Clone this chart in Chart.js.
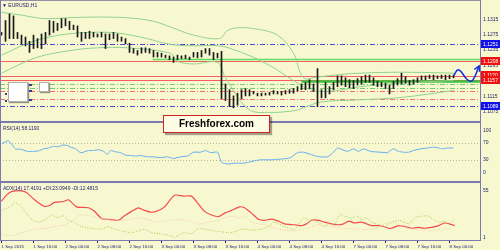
<!DOCTYPE html>
<html><head><meta charset="utf-8">
<script src="https://cdn.jsdelivr.net/npm/chart.js@4"></script>
<style>
html,body{margin:0;padding:0;background:#f8f8d0;}
#wrap{position:relative;width:500px;height:250px;overflow:hidden;background:#f8f8d0;font-family:"Liberation Sans",Arial,sans-serif;}
canvas{position:absolute;left:0;}
.ln{position:absolute;background:#7a7ab0;}
.lbl{position:absolute;font-size:5px;line-height:6px;color:#22226e;white-space:nowrap;}
#ff{position:absolute;left:163px;top:115px;width:105px;height:16px;border:1.5px solid #d42020;background:#fdfde6;box-shadow:2px 2px 1px rgba(0,0,0,0.35);font:bold 10px "Liberation Sans",Arial,sans-serif;color:#000;text-align:center;line-height:16px;}
.obj{position:absolute;background:#fff;border:1px solid #b0b0b0;box-shadow:1px 1px 1px rgba(0,0,0,0.4);}
.ic{position:absolute;background:#3838a0;width:3px;height:2px;}
</style></head><body>
<div id="wrap">
<canvas id="cP" width="500" height="121" style="top:0"></canvas>
<canvas id="cR" width="500" height="58" style="top:123px"></canvas>
<canvas id="cA" width="500" height="67" style="top:183px"></canvas>
<div class="ln" style="left:0;top:0;width:481px;height:1px;background:#9090a8"></div>
<div class="ln" style="left:0;top:0;width:1px;height:240px;"></div>
<div class="ln" style="left:480px;top:0;width:1px;height:240px;"></div>
<div class="ln" style="left:0;top:121px;width:481px;height:2px;"></div>
<div class="ln" style="left:0;top:181px;width:481px;height:2px;"></div>
<div class="ln" style="left:0;top:240px;width:481px;height:1px;"></div>
<div class="lbl" style="left:2px;top:2px;">▼ EURUSD,H1</div>
<div class="lbl" style="left:3px;top:125px;">RSI(14) 58.1190</div>
<div class="lbl" style="left:3px;top:185px;">ADX(14) 17.4191 +DI:23.0949 -DI:12.4815</div>
<div class="obj" style="left:8px;top:82px;width:18px;height:18px;"></div>
<div class="obj" style="left:39px;top:82px;width:8px;height:8px;"></div>
<div class="ic" style="left:29px;top:84px;"></div>
<div class="ic" style="left:29px;top:90px;"></div>
<div class="ic" style="left:29px;top:99px;"></div>
<div class="ic" style="left:5px;top:93px;width:2px;"></div>
<div class="ic" style="left:5px;top:100px;width:2px;"></div>
<div id="ff">Freshforex.com</div>
</div>
<script>
// ---------- axes ----------
const X_MIN = -0.375, X_MAX = 119.625;
const xTickIdx = [0, 8, 16, 24, 32, 40, 48, 56, 64, 72, 80, 88, 96, 104, 112];
const xTickLabels = ['1 Sep 2015','1 Sep 16:00','2 Sep 00:00','2 Sep 08:00','2 Sep 16:00','3 Sep 00:00','3 Sep 08:00','3 Sep 16:00','4 Sep 00:00','4 Sep 08:00','4 Sep 16:00','7 Sep 00:00','7 Sep 08:00','7 Sep 16:00','8 Sep 00:00'];
const priceTicks = [1.1075, 1.1115, 1.1155, 1.1195, 1.1235, 1.1275, 1.1315];
const rsiTicks = [0, 30, 70, 100];
const rsiLevels = [30, 70];
const adxTicks = [1, 55];

// ---------- price bars (H1) ----------
const priceHigh = [1.1281,1.1312,1.1329,1.1324,1.1281,1.1274,1.1269,1.1258,1.1274,1.1265,
1.1277,1.1281,1.1312,1.1310,1.1305,1.1317,1.1317,1.1310,1.1300,1.1298,
1.1281,1.1281,1.1284,1.1281,1.1277,1.1281,1.1277,1.1277,1.1281,1.1277,
1.1269,1.1265,1.1253,1.1239,1.1234,1.1241,1.1241,1.1239,1.1234,1.1229,
1.1227,1.1222,1.1220,1.1217,1.1222,1.1220,1.1222,1.1217,1.1229,1.1229,
1.1234,1.1239,1.1239,1.1229,1.1227,1.1232,1.1147,1.1132,1.1116,1.1123,
1.1132,1.1135,1.1132,1.1128,1.1123,1.1123,1.1123,1.1125,1.1130,1.1128,
1.1128,1.1130,1.1132,1.1135,1.1140,1.1147,1.1151,1.1158,1.1147,1.1187,
1.1132,1.1151,1.1140,1.1151,1.1168,1.1168,1.1163,1.1158,1.1156,1.1161,
1.1166,1.1170,1.1170,1.1163,1.1154,1.1151,1.1149,1.1144,1.1154,1.1161,
1.1175,1.1166,1.1156,1.1158,1.1163,1.1168,1.1168,1.1170,1.1170,1.1168,
1.1170,1.1170,1.1170,1.1170];
const priceLow = [1.1274,1.1258,1.1265,1.1265,1.1265,1.1251,1.1246,1.1229,1.1239,1.1241,
1.1239,1.1251,1.1274,1.1281,1.1286,1.1293,1.1298,1.1288,1.1288,1.1269,
1.1258,1.1265,1.1265,1.1269,1.1269,1.1269,1.1239,1.1262,1.1265,1.1258,
1.1258,1.1251,1.1229,1.1227,1.1222,1.1227,1.1229,1.1227,1.1217,1.1217,
1.1217,1.1215,1.1210,1.1203,1.1210,1.1213,1.1213,1.1210,1.1217,1.1215,
1.1217,1.1227,1.1222,1.1210,1.1215,1.1109,1.1104,1.1088,1.1085,1.1092,
1.1109,1.1116,1.1116,1.1121,1.1116,1.1116,1.1118,1.1118,1.1121,1.1121,
1.1118,1.1121,1.1123,1.1123,1.1128,1.1132,1.1132,1.1135,1.1128,1.1088,
1.1111,1.1111,1.1121,1.1132,1.1140,1.1144,1.1140,1.1137,1.1135,1.1144,
1.1147,1.1151,1.1151,1.1144,1.1140,1.1140,1.1135,1.1121,1.1135,1.1144,
1.1147,1.1149,1.1144,1.1147,1.1151,1.1158,1.1158,1.1161,1.1158,1.1161,
1.1161,1.1158,1.1161,1.1163];

// ---------- Bollinger bands (sampled) ----------
const bbUpperIdx = [0, 5, 10.5, 16.5, 23, 31.5, 38, 42.25, 48, 54.5, 56.5, 59, 63, 69, 73, 75.5, 79, 85, 95, 105, 113];
const bbUpperVal = [1.1333,1.1326,1.1317,1.1319,1.1321,1.1319,1.1310,1.1295,1.1274,1.1265,1.1286,1.1293,1.1291,1.1274,1.1227,1.1163,1.1165,1.1172,1.1177,1.1177,1.1175];
const bbMidIdx = [0, 8, 16.5, 27.25, 34.75, 42.25, 48, 54.5, 60.5, 67.25, 73, 77.25, 82.25, 89.75, 99.75, 113];
const bbMidVal = [1.1222,1.1258,1.1277,1.1281,1.1269,1.1250,1.1246,1.1246,1.1227,1.1194,1.1156,1.1132,1.1128,1.1140,1.1149,1.1156];
const bbLowerIdx = [0, 8.5, 17.25, 24, 31.5, 42.25, 44, 48, 54, 56, 61.75, 67.25, 73.5, 75.5, 79.75, 88, 100, 113];
const bbLowerVal = [1.1175,1.1215,1.1234,1.1241,1.1241,1.1227,1.1206,1.1199,1.1203,1.1163,1.1081,1.1073,1.1078,1.1085,1.1100,1.1105,1.1112,1.1130];

// ---------- horizontal objects ----------
const redSolidLevels = [1.1206, 1.1169, 1.1157];
const greenSolidLevels = [1.1211];
const greenSolidFrom = [37.75];
const greenThickLevels = [1.1154];
const greenThickFrom = [75];
const greenDashLevels = [1.1147, 1.1137];
const redDashLevels = [1.1128, 1.1109];
const blueDashLevels = [1.1251, 1.1089];
const blueBoxLevels = [1.1251, 1.1089];
const blueBoxText = ['1.1251', '1.1089'];
const redBoxLevels = [1.1208, 1.1170, 1.1157];
const redBoxText = ['1.1208', '1.1170', '1.1157'];

// ---------- forecast arrow ----------
const fcIdx = [113, 114.25, 116.5, 117.75, 119.4];
const fcVal = [1.1168, 1.1184, 1.1158, 1.1156, 1.1194];

// ---------- RSI(14) ----------
const rsiIdx = [0,1.75,3.5,4.75,6.5,8,9.25,10.5,11.75,13,14.25,15.25,16.5,17.25,18.5,19.75,20.5,21.75,23,24.25,25.5,26.5,27.25,28.5,29.75,31,32.25,33.5,34.75,36.5,38,39.75,41.5,43,44.75,46.5,48,49.75,51,52.25,54,55,56.5,58.5,60.5,61.75,63.5,64.75,67.25,69.75,72.25,74,75.5,77.25,78.5,79.75,81.5,83,84,84.75,86.5,88,89.25,90.5,92.25,94.75,96.5,97.25,98,99.25,100.5,101.75,103,104.75,106.5,108,109.25,110.25,111.5,113];
const rsiVal = [68,75,56,55,50,50,51,56,58,62,61,65,64,60,56,47,48,52,52,54,50,43,52,49,47,41,40,39,40,37,37,35,37,33,37,39,48,48,52,47,48,24,20,22,22,24,28,30,30,31.5,35,47,48,43,39,37,37,48,58,56,50,56,50,56,50,48,47,52,56,50,48,48,52,56,58,60,58,56,58,58];

// ---------- ADX(14) ----------
const adxIdx = [0,1.25,2.5,5,6.25,8.25,10.5,11.75,13.25,15.5,16.75,18.75,21.75,23.25,25,26.75,29.25,30.75,32.5,34.25,35.75,37.5,39.25,40.75,43.25,45.5,47.5,49.25,50.75,52.5,54.25,55.75,57.5,59.5,60.75,62.5,64.25,65.75,67.5,69.25,70.75,73.25,75,76.25,77.5,79.25,80.75,82.5,84.25,85.5,86.75,88.25,90,92.5,94.25,95.5,96.75,97.5,99.25,100.75,102.5,104.25,105.75,107.5,109.25,110.75,112,113.25];
const adxVal = [43,50,54,55,53,44.7,37.6,37.6,41.7,42.7,44.7,36.6,35.6,31.5,23.3,22.3,21.3,26.3,31.4,35.5,32.5,30.4,32.5,36.6,49.9,48.9,48.9,39.6,31.4,27.3,25.3,29.4,32.5,36.6,35.5,29.4,22.3,21.2,22.5,20.2,17.1,16.1,15.1,17.1,21.2,21.2,19.1,17.1,16.1,17.1,20.2,18.1,19.1,15.1,15.1,14.1,12.1,12.1,15.1,14.1,12.1,13,12.1,13,15.1,18.1,17.1,15.1];
const pdiIdx = [0,2.5,3.25,5,7.5,9.25,10.75,12.5,13.75,15.5,16.75,18,20,22.5,25,26.75,28.25,30,32.5,34.25,35.75,37.5,39.25,41.75,43.25,45.5,47.5,49.25,50.75,53.25,55,56.75,58.25,60,62.5,65,66.75,68.25,70.75,73.25,75.5,76.75,78,79.25,80.5,81.75,83.25,84.5,85.75,87.5,88.75,90,91.25,92.5,94.5,95.75,97.5,99.25,100.75,102,103.25,105,106.75,108,109.25,110.75,112,113.25];
const pdiVal = [32.5,37.6,41.7,36.6,22.3,19.1,21.2,27.3,24.3,26.3,21.2,19.1,14,12,11,14,11,9,7,9,11,7,6,4,2,7,6,12,11,9,8,7,8,11,10,11,14,19,14,11,24,22,21,19,14,17,16,28,26,24,26,22,24,19,16,14,19,21,19,17,24,26,26,22,19,20,17,23];
const mdiIdx = [0,2.5,5,8.25,10.75,13.25,15.75,18.25,19.5,21.75,24.25,26.75,29.25,31.75,34.25,36.75,39.25,41.75,44.25,46.75,49.25,51.75,54.25,55.75,57.5,59.25,60.75,62.5,65.75,69.25,72.5,75.75,79.25,82.5,85.75,89.25,92.5,94.25,95.75,97.5,99.25,101.75,104.25,107.5,110,112.5];
const mdiVal = [5.6,3.5,6.7,11,12,14,16,22,27,27,24,22,21,22,24,22,19,21,22,21,17,19,21,24,26,24,26,19,16,11,9,11,16,14,12,11,11,14,17,19,16,12,11,9,11,12];

// ---------- helpers ----------
const pts = (xs, ys) => xs.map((x, k) => ({x: x, y: ys[k]}));
const NAVY = '#22226e';
const base = {
  responsive: false, animation: false, devicePixelRatio: 1,
  plugins: {legend: {display: false}, tooltip: {enabled: false}},
  events: []
};
const yRight = (min, max, ticksArr, fmt) => ({
  position: 'right', min: min, max: max,
  afterFit: s => { s.width = 20; },
  afterBuildTicks: s => { s.ticks = ticksArr.map(v => ({value: v})); },
  ticks: {font: {size: 5, family: 'Liberation Sans'}, color: NAVY, padding: 3, autoSkip: false, callback: fmt},
  grid: {display: false, drawTicks: false, tickLength: 0}, border: {display: false}
});
const xHidden = {type: 'linear', min: X_MIN, max: X_MAX, display: false, offset: false, grid: {offset: false}};

const dashLine = (ctx, a, py, color, width, dash, x0) => {
  ctx.save();
  ctx.strokeStyle = color; ctx.lineWidth = width; ctx.setLineDash(dash);
  ctx.beginPath(); ctx.moveTo(x0 === undefined ? a.left : x0, py); ctx.lineTo(a.right, py); ctx.stroke();
  ctx.restore();
};

const levelPlugin = {
  id: 'levels',
  beforeDatasetsDraw(chart) {
    const {ctx, chartArea: a, scales: {x, y}} = chart;
    const P = v => Math.round(y.getPixelForValue(v)) + 0.5;
    const DD = [5, 2, 1, 2];
    blueDashLevels.forEach(v => dashLine(ctx, a, P(v), '#4a4ae0', 1, DD));
    redDashLevels.forEach(v => dashLine(ctx, a, P(v), '#f07070', 1, DD));
    greenDashLevels.forEach(v => dashLine(ctx, a, P(v), '#70d070', 1, DD));
    redSolidLevels.forEach(v => dashLine(ctx, a, P(v), '#f46060', 1, []));
    greenSolidLevels.forEach((v, k) => dashLine(ctx, a, P(v), '#5ee05e', 1.5, [], x.getPixelForValue(greenSolidFrom[k])));
    greenThickLevels.forEach((v, k) => dashLine(ctx, a, P(v), '#3cc03c', 2.5, [], x.getPixelForValue(greenThickFrom[k])));
  },
  afterDraw(chart) {
    const {ctx, chartArea: a, scales: {x, y}} = chart;
    const n = fcIdx.length;
    const tx = x.getPixelForValue(fcIdx[n-1]), ty = y.getPixelForValue(fcVal[n-1]);
    const ang = Math.atan2(ty - y.getPixelForValue(fcVal[n-2]), tx - x.getPixelForValue(fcIdx[n-2]));
    ctx.save();
    ctx.strokeStyle = '#1a2ce0'; ctx.lineWidth = 1.5;
    ctx.beginPath();
    ctx.moveTo(tx - 6*Math.cos(ang - 0.5), ty - 6*Math.sin(ang - 0.5));
    ctx.lineTo(tx, ty);
    ctx.lineTo(tx - 6*Math.cos(ang + 0.5), ty - 6*Math.sin(ang + 0.5));
    ctx.stroke();
    ctx.restore();
    const box = (v, t, col) => {
      const py = Math.round(y.getPixelForValue(v));
      ctx.fillStyle = col; ctx.fillRect(a.right + 1, py - 4, 19, 8);
      ctx.fillStyle = '#ffffff'; ctx.font = '5px "Liberation Sans"';
      ctx.textBaseline = 'middle'; ctx.textAlign = 'left';
      ctx.fillText(t, a.right + 3, py + 0.5);
    };
    blueBoxLevels.forEach((v, k) => box(v, blueBoxText[k], '#1010e8'));
    redBoxLevels.forEach((v, k) => box(v, redBoxText[k], '#f01010'));
  }
};

// ---------- price chart ----------
const BB = '#8fd28f';
const bandDs = (xs, ys) => ({type: 'line', data: pts(xs, ys), borderColor: BB, borderWidth: 1, pointRadius: 0, tension: 0.35, order: 5});
new Chart(document.getElementById('cP'), {
  type: 'bar',
  data: {datasets: [
    bandDs(bbUpperIdx, bbUpperVal),
    bandDs(bbMidIdx, bbMidVal),
    bandDs(bbLowerIdx, bbLowerVal),
    {type: 'bar', data: priceHigh.map((h, i) => ({x: i, y: [priceLow[i], h]})), backgroundColor: '#1a1a1a', barThickness: 1, grouped: false, order: 1},
    {type: 'line', data: pts(fcIdx, fcVal), borderColor: '#1a2ce0', borderWidth: 1.5, pointRadius: 0, tension: 0.45, clip: false, order: 0}
  ]},
  options: Object.assign({}, base, {
    layout: {padding: {left: 0, right: 0, top: 1, bottom: 0}},
    scales: {x: xHidden, y: yRight(1.10663, 1.13497, priceTicks, v => v.toFixed(4))}
  }),
  plugins: [levelPlugin]
});

// ---------- RSI chart ----------
const rsiPlugin = {
  id: 'rsiLevels',
  beforeDatasetsDraw(chart) {
    const {ctx, chartArea: a, scales: {y}} = chart;
    rsiLevels.forEach(v => dashLine(ctx, a, Math.round(y.getPixelForValue(v)) + 0.5, '#b8b8a8', 1, [1, 2]));
  }
};
new Chart(document.getElementById('cR'), {
  type: 'line',
  data: {datasets: [{data: pts(rsiIdx, rsiVal), borderColor: '#64aef0', borderWidth: 1, pointRadius: 0, tension: 0.2}]},
  options: Object.assign({}, base, {
    layout: {padding: {left: 0, right: 0, top: 0, bottom: 0}},
    scales: {x: xHidden, y: yRight(-6.2, 103.2, rsiTicks, v => String(v))}
  }),
  plugins: [rsiPlugin]
});

// ---------- ADX chart ----------
new Chart(document.getElementById('cA'), {
  type: 'line',
  data: {datasets: [
    {data: pts(mdiIdx, mdiVal), borderColor: '#f2c8a8', borderWidth: 1, borderDash: [1, 1.5], pointRadius: 0, tension: 0.2},
    {data: pts(pdiIdx, pdiVal), borderColor: '#a8cc4c', borderWidth: 1, borderDash: [1, 1.5], pointRadius: 0, tension: 0.2},
    {data: pts(adxIdx, adxVal), borderColor: '#f24c4c', borderWidth: 1.2, pointRadius: 0, tension: 0.2}
  ]},
  options: Object.assign({}, base, {
    layout: {padding: {left: 0, right: 0, top: 0, bottom: 0}},
    scales: {
      x: {type: 'linear', min: X_MIN, max: X_MAX, position: 'bottom', offset: false,
        afterFit: s => { s.height = 10; },
        afterBuildTicks: s => { s.ticks = xTickIdx.map(v => ({value: v})); },
        ticks: {font: {size: 4.4, family: 'Liberation Sans'}, color: NAVY, padding: 1, align: 'start', maxRotation: 0, autoSkip: false,
          callback: (v, k) => xTickLabels[k]},
        grid: {drawOnChartArea: false, drawTicks: true, tickLength: 3, color: NAVY, offset: false},
        border: {display: false}},
      y: yRight(-1.36, 57.04, adxTicks, v => String(v))
    }
  })
});
</script>
</body></html>
